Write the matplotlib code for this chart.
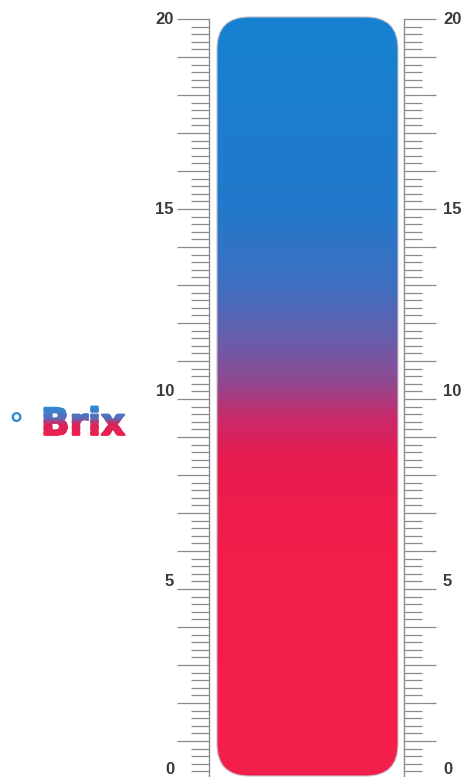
import numpy as np
import matplotlib.pyplot as plt
import matplotlib.patheffects as pe
from matplotlib.colors import LinearSegmentedColormap
from matplotlib.patches import FancyBboxPatch
from matplotlib.ticker import FixedLocator, NullFormatter
from matplotlib.transforms import Bbox, TransformedBbox, ScaledTranslation

# ------------------ DATE ------------------
scale_min, scale_max = 0, 20
major_step, minor_step = 1, 0.2
label_values = [0, 5, 10, 15, 20]

# culoarea benzii in functie de grade Brix
gradient_brix = [0, 6, 8.5, 9.5, 10.5, 11.5, 13, 15, 20]
gradient_colors = ['#f41f4b', '#f21d49', '#e81c50', '#c82a6a', '#8e4a92',
                   '#6a5caa', '#3f6fc0', '#2378ca', '#1682d1']

# culoarea textului "Brix" de sus in jos
title_stops = [0.0, 0.4, 0.6, 1.0]
title_colors = ['#2a8cd8', '#5a6cb8', '#d9245a', '#ee1f4c']

# ------------------ GEOMETRIE ------------------
W, H = 467, 777
px_per_unit = 38
y_zero = 779  # randul de pixeli pentru 0 Brix


def v(py):
    return (y_zero - py) / px_per_unit


fig = plt.figure(figsize=(W / 100, H / 100), dpi=100)
fig.patch.set_facecolor('white')
ax = fig.add_axes([0, 0, 1, 1])

# ------------------ BANDA ------------------
bar_x0, bar_x1 = 217, 398
bar_bottom, bar_top = v(776), v(17)
box = FancyBboxPatch((bar_x0, bar_bottom), bar_x1 - bar_x0, bar_top - bar_bottom,
                     boxstyle="round,pad=0,rounding_size=32",
                     mutation_aspect=1 / px_per_unit,
                     facecolor='none', edgecolor='#c4c0c8', lw=0.8, zorder=3)
ax.add_patch(box)

cmap = LinearSegmentedColormap.from_list(
    'brix', list(zip(np.array(gradient_brix) / scale_max, gradient_colors)))
grad = np.linspace(bar_bottom, bar_top, 600).reshape(-1, 1)
im = ax.imshow(grad, cmap=cmap, vmin=scale_min, vmax=scale_max,
               extent=[bar_x0, bar_x1, bar_bottom, bar_top],
               origin='lower', aspect='auto', interpolation='bilinear', zorder=2)
im.set_clip_path(box)

ax.set_xlim(0, W)
ax.set_ylim(v(H), v(0))
ax.axis('off')

# ------------------ SCALE ------------------
sax = fig.add_axes([209 / W, 0, (404 - 209) / W, 1])
sax.set_ylim(v(H), v(0))
sax.patch.set_visible(False)
for side in ['top', 'bottom']:
    sax.spines[side].set_visible(False)
for side in ['left', 'right']:
    sax.spines[side].set_bounds(scale_min, scale_max)
    sax.spines[side].set_color('#8c8c8c')
    sax.spines[side].set_linewidth(1.0)
sax.set_xticks([])
majors = np.arange(scale_min, scale_max + major_step / 2, major_step)
minors = np.round(np.arange(scale_min, scale_max + minor_step / 2, minor_step), 1)
sax.yaxis.set_major_locator(FixedLocator(majors))
sax.yaxis.set_minor_locator(FixedLocator(minors))
sax.yaxis.set_major_formatter(NullFormatter())
sax.tick_params(axis='y', which='both', left=True, right=True,
                direction='out', color='#8c8c8c', width=0.9)
sax.tick_params(axis='y', which='major', length=32 * 0.72)
sax.tick_params(axis='y', which='minor', length=18 * 0.72)

# etichete (usor deplasate ca in original)
nudges = [10, 7, 8, 0, -1]
for val, nd in zip(label_values, nudges):
    tr = ax.transData + ScaledTranslation(0, nd / 100, fig.dpi_scale_trans)
    for x, ha in [(174, 'right'), (443, 'left')]:
        ax.text(x, val, str(val), ha=ha, va='center', transform=tr,
                fontsize=12, fontweight='bold', family='Liberation Sans',
                color='#3a3a3a')

# ------------------ TITLU ------------------
tcmap = LinearSegmentedColormap.from_list('title', list(zip(title_stops, title_colors)))
t_top, t_bot = 407, 436
n_bands = 24
edges = np.linspace(t_top, t_bot, n_bands + 1)
for i in range(n_bands):
    a = 0 if i == 0 else edges[i] - 0.3
    b = H if i == n_bands - 1 else edges[i + 1] + 0.3
    col = tcmap((i + 0.5) / n_bands)
    t = ax.text(41, v(435), 'Brix', ha='left', va='baseline',
                fontsize=27, fontweight='bold', family='DejaVu Sans', color=col,
                path_effects=[pe.withStroke(linewidth=1.3, foreground=col)])
    t.set_clip_box(TransformedBbox(Bbox([[0, v(b)], [W, v(a)]]), ax.transData))
    t.set_clip_on(True)

ax.text(8, v(435), '°', ha='left', va='baseline', fontsize=22,
        fontweight='bold', family='DejaVu Sans', color='#2b8bd3')

fig.savefig('out.png', dpi=100, facecolor='white')
